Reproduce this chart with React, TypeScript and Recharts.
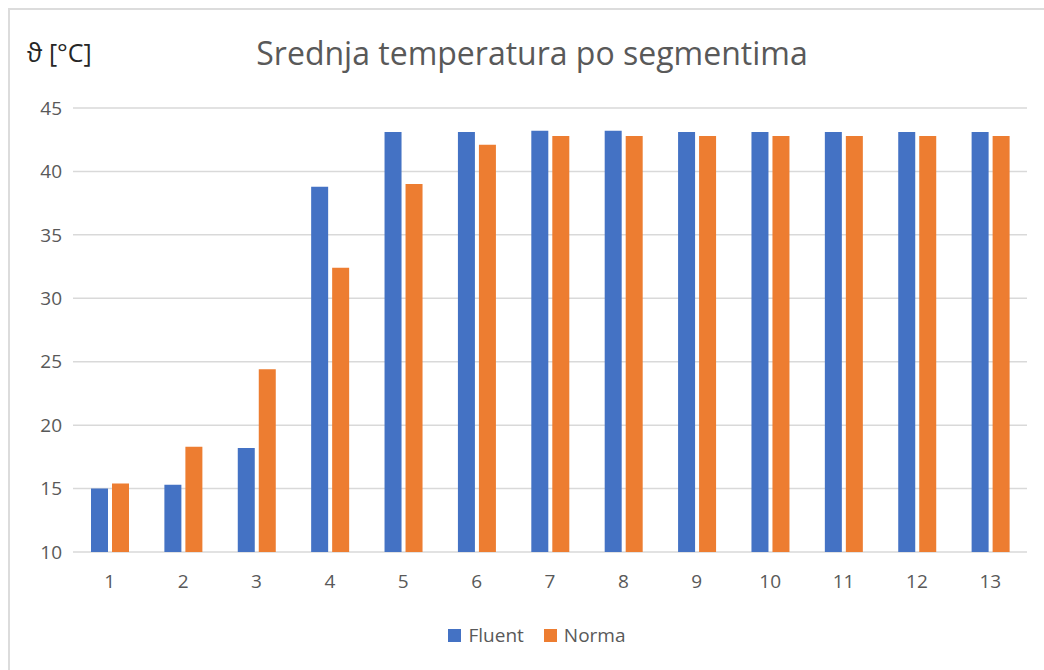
import React from "react";
import {
  BarChart,
  Bar,
  XAxis,
  YAxis,
  CartesianGrid,
  Legend,
} from "recharts";

// segmenti i vrijednosti očitane sa slike
const segments = ["1", "2", "3", "4", "5", "6", "7", "8", "9", "10", "11", "12", "13"];
const fluent = [15.0, 15.3, 18.2, 38.8, 43.1, 43.1, 43.2, 43.2, 43.1, 43.1, 43.1, 43.1, 43.1];
const norma = [15.4, 18.3, 24.4, 32.4, 39.0, 42.1, 42.8, 42.8, 42.8, 42.8, 42.8, 42.8, 42.8];
const yTicks = [10, 15, 20, 25, 30, 35, 40, 45];

const BLUE = "#4472C4";
const ORANGE = "#ED7D31";
const FONT = "'Open Sans', sans-serif";

const data = segments.map((s, i) => ({ seg: s, Fluent: fluent[i], Norma: norma[i] }));

const LegendContent = () => (
  <div
    style={{
      display: "flex",
      justifyContent: "center",
      alignItems: "center",
      fontFamily: FONT,
      fontSize: 19,
      color: "#595959",
    }}
  >
    {[
      { name: "Fluent", color: BLUE },
      { name: "Norma", color: ORANGE },
    ].map((it) => (
      <span key={it.name} style={{ display: "flex", alignItems: "center", margin: "0 10px" }}>
        <span style={{ width: 13, height: 13, background: it.color, marginRight: 7 }} />
        {it.name}
      </span>
    ))}
  </div>
);

export default function App() {
  return (
    <div style={{ position: "fixed", left: 0, top: 0, width: 1044, height: 670, background: "#fff", overflow: "hidden" }}>
      {/* okvir grafikona: vidljivi samo gornji i lijevi rub */}
      <div
        style={{
          position: "absolute",
          left: 8,
          top: 8,
          width: 1100,
          height: 700,
          borderTop: "2px solid #dcdcdc",
          borderLeft: "2px solid #dcdcdc",
          boxSizing: "border-box",
        }}
      />
      <div
        style={{
          position: "absolute",
          left: 0,
          width: 1064,
          top: 31,
          textAlign: "center",
          fontFamily: FONT,
          fontSize: 32,
          color: "#595959",
        }}
      >
        Srednja temperatura po segmentima
      </div>
      <div
        style={{
          position: "absolute",
          left: 27,
          top: 35,
          fontFamily: FONT,
          fontSize: 25,
          color: "#262626",
        }}
      >
        ϑ [°C]
      </div>
      <div style={{ position: "absolute", left: 0, top: 0 }}>
        <BarChart
          width={1044}
          height={670}
          data={data}
          margin={{ top: 108, right: 17, bottom: 88, left: 13 }}
          barSize={17}
          barGap={4}
        >
          <CartesianGrid vertical={false} stroke="#d9d9d9" strokeWidth={1.5} />
          <XAxis
            dataKey="seg"
            axisLine={false}
            tickLine={false}
            tickSize={0}
            tickMargin={23}
            height={30}
            tick={{ fill: "#595959", fontSize: 19, fontFamily: FONT }}
          />
          <YAxis
            domain={[10, 45]}
            ticks={yTicks}
            allowDataOverflow
            axisLine={false}
            tickLine={false}
            tickSize={0}
            tickMargin={11}
            width={60}
            tick={{ fill: "#595959", fontSize: 19, fontFamily: FONT }}
          />
          <Legend
            verticalAlign="middle"
            align="center"
            content={<LegendContent />}
            wrapperStyle={{ top: 622, left: 30, width: 1014 }}
          />
          <Bar dataKey="Fluent" fill={BLUE} isAnimationActive={false} />
          <Bar dataKey="Norma" fill={ORANGE} isAnimationActive={false} />
        </BarChart>
      </div>
    </div>
  );
}
